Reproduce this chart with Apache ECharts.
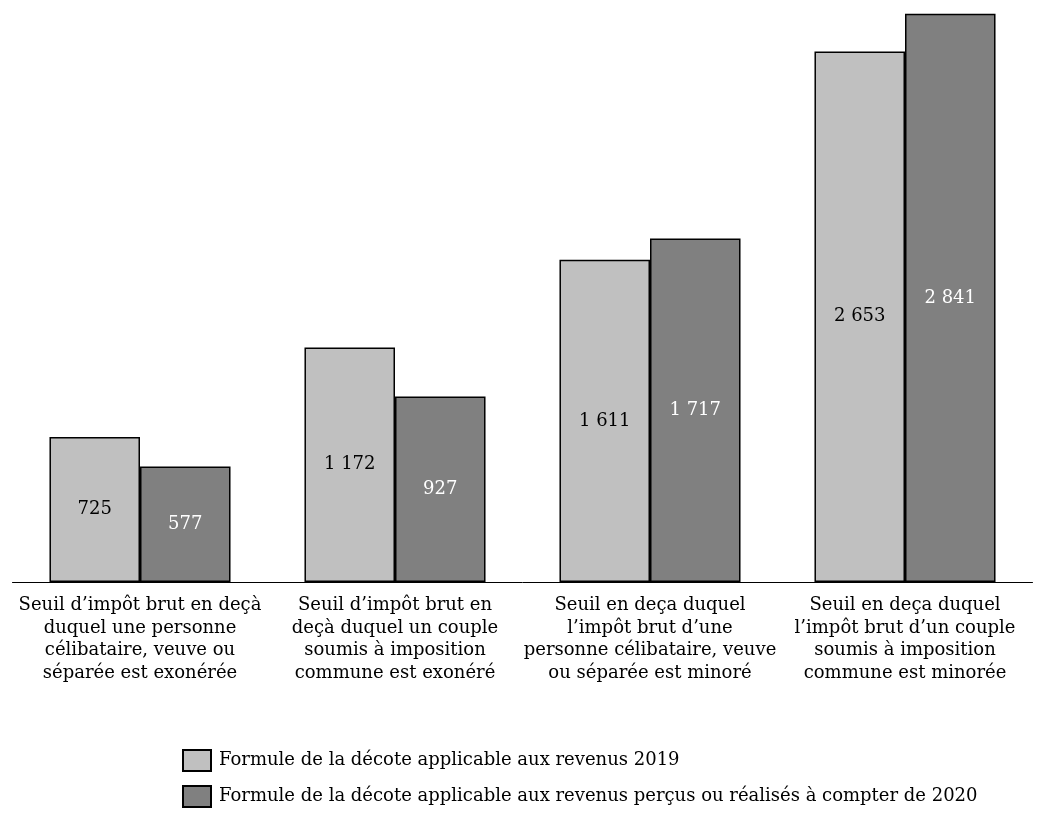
<!DOCTYPE html>
<html><head><meta charset="utf-8">
<script src="https://cdn.jsdelivr.net/npm/echarts@6/dist/echarts.min.js"></script>
<style>html,body{margin:0;padding:0;background:#fff}#c{width:1045px;height:820px}</style>
</head><body><div id="c"></div>
<script>
const categories = [
  "Seuil d’impôt brut en deçà\nduquel une personne\ncélibataire, veuve ou\nséparée est exonérée",
  "Seuil d’impôt brut en\ndeçà duquel un couple\nsoumis à imposition\ncommune est exonéré",
  "Seuil en deça duquel\nl’impôt brut d’une\npersonne célibataire, veuve\nou séparée est minoré",
  "Seuil en deça duquel\nl’impôt brut d’un couple\nsoumis à imposition\ncommune est minorée"
];
const seriesNames = [
  "Formule de la décote applicable aux revenus 2019",
  "Formule de la décote applicable aux revenus perçus ou réalisés à compter de 2020"
];
const values2019 = [725, 1172, 1611, 2653];
const values2020 = [577, 927, 1717, 2841];

const FONT = "DejaVu Serif";
const fmt = v => String(v).replace(/\B(?=(\d{3})+(?!\d))/g, " ");

const chart = echarts.init(document.getElementById('c'));
chart.setOption({
  animation: false,
  backgroundColor: '#fff',
  textStyle: { fontFamily: FONT },
  grid: { left: 12.5, right: 12.5, top: 0, bottom: 238, containLabel: false },
  legend: {
    orient: 'vertical', left: 177, top: 744, itemWidth: 28, itemHeight: 21, itemGap: 13,
    icon: 'rect',
    itemStyle: { borderColor: '#000', borderWidth: 2 },
    textStyle: { fontFamily: FONT, fontSize: 18, color: '#000', padding: [0, 0, 0, 3] },
    data: seriesNames
  },
  xAxis: {
    type: 'category', data: categories,
    axisLine: { lineStyle: { color: '#000', width: 1 } },
    axisTick: { show: false },
    axisLabel: { interval: 0, margin: 12, fontFamily: FONT, fontSize: 18, lineHeight: 22.7, color: '#000', align: 'center' }
  },
  yAxis: { type: 'value', min: 0, max: 2910, show: false, splitLine: { show: false } },
  series: [
    { name: seriesNames[0], type: 'bar', data: values2019, barGap: '0%', barCategoryGap: '29%',
      itemStyle: { color: '#c0c0c0', borderColor: '#000', borderWidth: 1.5 },
      label: { show: true, position: 'inside', formatter: p => fmt(p.value), fontFamily: FONT, fontSize: 18, color: '#000' } },
    { name: seriesNames[1], type: 'bar', data: values2020,
      itemStyle: { color: '#808080', borderColor: '#000', borderWidth: 1.5 },
      label: { show: true, position: 'inside', formatter: p => fmt(p.value), fontFamily: FONT, fontSize: 18, color: '#fff' } }
  ]
});
</script></body></html>
